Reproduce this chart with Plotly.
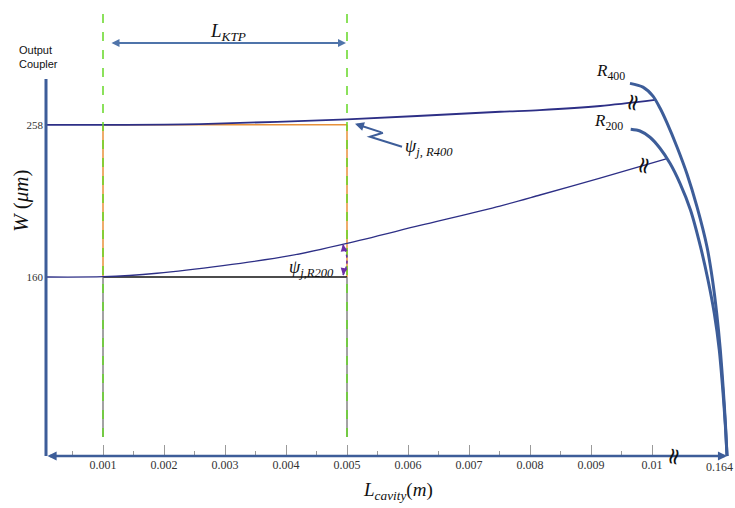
import plotly.graph_objects as go

# ---------------- data: cavity position (m) and spot radius W (µm) ----------------
x_tick_vals = [0.001, 0.002, 0.003, 0.004, 0.005, 0.006, 0.007, 0.008, 0.009, 0.010]
x_tick_text = ["0.001", "0.002", "0.003", "0.004", "0.005",
               "0.006", "0.007", "0.008", "0.009", "0.01"]
x_minor_vals = [0.0005, 0.0015, 0.0025, 0.0035, 0.0045,
                0.0055, 0.0065, 0.0075, 0.0085, 0.0095]
cavity_end_label = "0.164"
cavity_end_pos = 0.01123          # axis is broken before the cavity end (0.164 m)
w_tick_vals = [258, 160]
w_tick_text = ["258", "160"]

ktp_start, ktp_end = 0.001, 0.005
w_oc_r400 = 258
w_oc_r200 = 160

# beam radius along the cavity for the two end-mirror curvatures
beam_r400_x = [0.00007, 0.001, 0.00259, 0.005, 0.00751, 0.00816, 0.00915, 0.01005]
beam_r400_w = [258.0, 258.0, 258.5, 261.5, 266.4, 267.5, 270.1, 274.0]

beam_r200_x = [0.00007, 0.001, 0.001885, 0.002967, 0.004066, 0.005,
               0.006197, 0.007508, 0.008164, 0.009148, 0.010246]
beam_r200_w = [160.0, 160.2, 162.4, 167.3, 173.7, 181.7,
               193.2, 205.7, 212.8, 223.7, 236.3]

# end-mirror curvature profiles R400 and R200
mirror_r400_x = [0.009639, 0.009852, 0.010016, 0.010131, 0.010246, 0.010410,
                 0.010574, 0.010738, 0.010902, 0.010992, 0.011061, 0.011120,
                 0.011169, 0.011205, 0.011230]
mirror_r400_w = [284.7, 282.3, 276.5, 268.8, 259.2, 243.7,
                 226.3, 205.1, 179.3, 158.1, 136.6, 113.0,
                 87.2, 64.7, 44.7]

mirror_r200_x = [0.009651, 0.009803, 0.009967, 0.010131, 0.010295, 0.010459,
                 0.010631, 0.010795, 0.010918, 0.011021, 0.011103, 0.011161,
                 0.011202, 0.011230]
mirror_r200_w = [255.1, 254.0, 250.0, 242.9, 233.2, 220.3,
                 203.1, 179.5, 158.1, 136.6, 113.0, 87.2,
                 64.7, 44.7]

# ---------------- frame geometry (data units) ----------------
X_RANGE = [-0.00068852, 0.01136066]
W_RANGE = [11.25, 338.37]
Y_AXIS_X = 0.0000656       # x where the W axis is drawn
W_AXIS = 44.74             # W level of the cavity axis
W_AXIS_TOP = 287.5
W_GUIDE_TOP = 335.1
W_GUIDE_BOTTOM = 57.0
W_LKTP = 310.7

# ---------------- styles ----------------
NAVY = "#2d2f86"
STEEL = "#3d5d99"
ARROW_BLUE = "#4f74aa"
GREEN = "#66d826"
ORANGE = "#e8913a"
PURPLE = "#6a2fa6"
SERIF = "Liberation Serif"
SANS = "Liberation Sans"

fig = go.Figure()

fig.add_trace(go.Scatter(x=beam_r400_x, y=beam_r400_w, mode="lines",
                         line=dict(color=NAVY, width=1.8, shape="spline", smoothing=0.8),
                         hoverinfo="skip", showlegend=False))
fig.add_trace(go.Scatter(x=beam_r200_x, y=beam_r200_w, mode="lines",
                         line=dict(color=NAVY, width=1.3, shape="spline", smoothing=0.8),
                         hoverinfo="skip", showlegend=False))
fig.add_trace(go.Scatter(x=mirror_r400_x, y=mirror_r400_w, mode="lines",
                         line=dict(color=STEEL, width=3, shape="spline", smoothing=0.8),
                         hoverinfo="skip", showlegend=False))
fig.add_trace(go.Scatter(x=mirror_r200_x, y=mirror_r200_w, mode="lines",
                         line=dict(color=STEEL, width=3, shape="spline", smoothing=0.8),
                         hoverinfo="skip", showlegend=False))

shapes = []
# W axis
shapes.append(dict(type="line", xref="x", yref="y", x0=Y_AXIS_X, x1=Y_AXIS_X,
                   y0=W_AXIS, y1=W_AXIS_TOP, line=dict(color=STEEL, width=3)))
# KTP box at the R400 radius (orange) and reference level at the R200 radius (black)
for (xa, wa, xb, wb) in [(ktp_start, w_oc_r400, ktp_end, w_oc_r400),
                         (ktp_end, w_oc_r400, ktp_end, w_oc_r200),
                         (ktp_start, w_oc_r400, ktp_start, w_oc_r200)]:
    shapes.append(dict(type="line", xref="x", yref="y", x0=xa, x1=xb, y0=wa, y1=wb,
                       line=dict(color=ORANGE, width=1.5), layer="below"))
shapes.append(dict(type="line", xref="x", yref="y", x0=ktp_start, x1=ktp_end,
                   y0=w_oc_r200, y1=w_oc_r200, line=dict(color="#111111", width=1.6),
                   layer="below"))
# KTP boundary guides
for xk in (ktp_start, ktp_end):
    shapes.append(dict(type="line", xref="x", yref="y", x0=xk, x1=xk,
                       y0=W_GUIDE_BOTTOM, y1=w_oc_r200,
                       line=dict(color="#666666", width=1.2)))
    shapes.append(dict(type="line", xref="x", yref="y", x0=xk, x1=xk,
                       y0=W_GUIDE_BOTTOM, y1=W_GUIDE_TOP,
                       line=dict(color=GREEN, width=1.5, dash="dash")))
# angle marker psi_j,R200 (dotted arc), drawn in pixels from the KTP exit face
shapes.append(dict(type="path", xref="x", yref="y", xsizemode="pixel", ysizemode="pixel",
                   xanchor=ktp_end, yanchor=w_oc_r200,
                   path="M -4,2 Q 4,17 -4,32",
                   line=dict(color=PURPLE, width=1.6, dash="dot")))
# zig-zag pointer for psi_j,R400
shapes.append(dict(type="path", xref="x", yref="y", xsizemode="pixel", ysizemode="pixel",
                   xanchor=ktp_end, yanchor=w_oc_r400,
                   path="M 36,-8 L 23,-12 L 55,-22",
                   line=dict(color=STEEL, width=2)))

ann = []
# cavity axis with arrows at both ends
ann.append(dict(x=cavity_end_pos, y=W_AXIS, ax=Y_AXIS_X, ay=W_AXIS, xref="x", yref="y",
                axref="x", ayref="y", text="", showarrow=True, arrowside="end+start",
                arrowhead=2, arrowsize=0.7, arrowwidth=2.6, arrowcolor=STEEL, standoff=0,
                startstandoff=0))
# label of the cavity end beyond the axis break, kept inside the frame
ann.append(dict(x=cavity_end_pos, y=W_AXIS, xref="x", yref="y", xanchor="right",
                yanchor="top", xshift=8, yshift=-2, text=cavity_end_label, showarrow=False,
                font=dict(family=SERIF, size=12, color="#333333")))
# L_KTP span arrow
ann.append(dict(x=ktp_end - 0.000016, y=W_LKTP, ax=ktp_start + 0.000115, ay=W_LKTP,
                xref="x", yref="y", axref="x", ayref="y", text="", showarrow=True,
                arrowside="end+start", arrowhead=2, arrowsize=0.8, arrowwidth=2,
                arrowcolor=ARROW_BLUE, standoff=0, startstandoff=0))
ann.append(dict(x=(ktp_start + ktp_end) / 2, y=W_LKTP, xref="x", yref="y", yshift=11,
                xshift=3, text="<i>L</i><sub><i>KTP</i></sub>", showarrow=False,
                font=dict(family=SERIF, size=19, color="#111111")))
# pointer head for psi_j,R400
ann.append(dict(x=ktp_end, y=w_oc_r400, xref="x", yref="y", xshift=8, yshift=1,
                ax=28, ay=9, text="", showarrow=True, arrowhead=2, arrowsize=0.9,
                arrowwidth=2, arrowcolor=STEEL, standoff=0))
# arrowheads of the angle marker
beam_r200_at_exit = beam_r200_w[beam_r200_x.index(ktp_end)]
ann.append(dict(x=ktp_end, y=w_oc_r200, xref="x", yref="y", xshift=-4, yshift=2,
                ax=1, ay=-6, text="", showarrow=True, arrowhead=2, arrowsize=1,
                arrowwidth=1.4, arrowcolor=PURPLE, standoff=0))
ann.append(dict(x=ktp_end, y=beam_r200_at_exit, xref="x", yref="y", xshift=-4, yshift=-1,
                ax=1, ay=6, text="", showarrow=True, arrowhead=2, arrowsize=1,
                arrowwidth=1.4, arrowcolor=PURPLE, standoff=0))


def px_label(px, py, text, size=15, family=SERIF, angle=0, xanchor="center", align="center"):
    return dict(x=px / 735, y=1 - py / 508, xref="paper", yref="paper", text=text,
                showarrow=False, textangle=angle, xanchor=xanchor, yanchor="middle",
                align=align, font=dict(family=family, size=size, color="#111111"))


ann.append(px_label(17, 57, "Output<br>Coupler", size=11, family=SANS, xanchor="left",
                    align="left"))
ann.append(px_label(21, 201, "<i>W</i> (<i>μm</i>)", size=21, angle=-90))
ann.append(px_label(398, 491, "<i>L</i><sub><i>cavity</i></sub>(<i>m</i>)", size=19))
ann.append(px_label(610, 72, "<i>R</i><sub>400</sub>", size=17))
ann.append(px_label(608, 122, "<i>R</i><sub>200</sub>", size=17))
ann.append(px_label(429, 148, "<i>ψ</i><sub><i>j, R400</i></sub>", size=18))
ann.append(px_label(311, 268, "<i>ψ</i><sub><i>j,R200</i></sub>", size=18))
# break marks
for (bx, by) in [(632, 103), (643, 166), (673, 457)]:
    ann.append(px_label(bx, by, "≈", size=23, family="DejaVu Sans", angle=-78))

fig.update_layout(
    width=735, height=508,
    margin=dict(l=0, r=0, t=0, b=0, pad=0),
    paper_bgcolor="white", plot_bgcolor="white",
    showlegend=False,
    shapes=shapes,
    annotations=ann,
    xaxis=dict(range=X_RANGE, anchor="free", position=(508 - 456) / 508,
               showgrid=False, zeroline=False, showline=False,
               tickmode="array", tickvals=x_tick_vals, ticktext=x_tick_text,
               ticks="inside", ticklen=11, tickwidth=1, tickcolor="#9a9a9a",
               minor=dict(tickmode="array", tickvals=x_minor_vals, ticks="inside",
                          ticklen=5, tickwidth=1, tickcolor="#9a9a9a"),
               tickfont=dict(family=SERIF, size=12, color="#333333"),
               automargin=False, fixedrange=True),
    yaxis=dict(range=W_RANGE, anchor="free", position=43 / 735,
               showgrid=False, zeroline=False, showline=False,
               tickmode="array", tickvals=w_tick_vals, ticktext=w_tick_text,
               ticks="", tickfont=dict(family=SERIF, size=11, color="#333333"),
               automargin=False, fixedrange=True),
)

fig.write_html("out.html", config={"displayModeBar": False})
